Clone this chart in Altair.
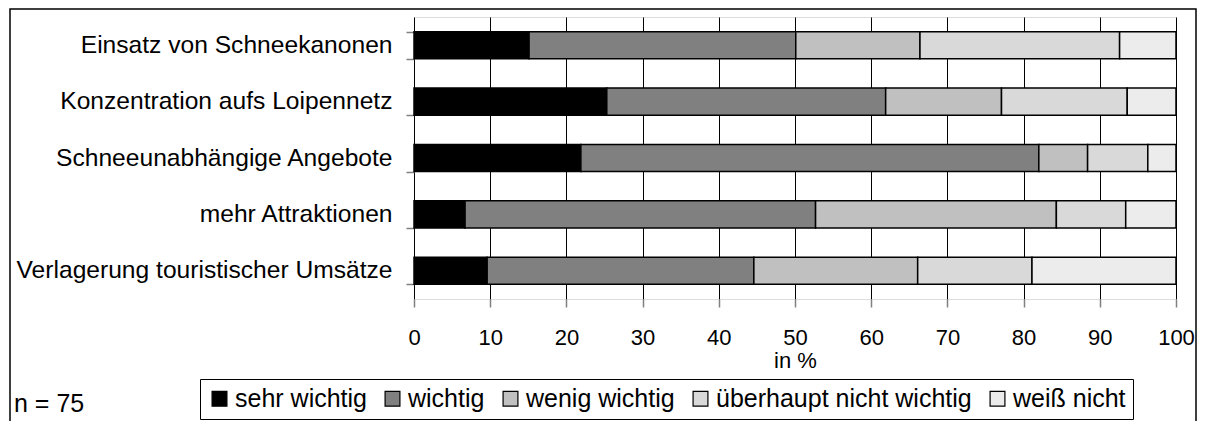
import altair as alt
import pandas as pd

categories = [
    "Einsatz von Schneekanonen",
    "Konzentration aufs Loipennetz",
    "Schneeunabhängige Angebote",
    "mehr Attraktionen",
    "Verlagerung touristischer Umsätze",
]
series = ["sehr wichtig", "wichtig", "wenig wichtig", "überhaupt nicht wichtig", "weiß nicht"]
sehr_wichtig = [15.1, 25.3, 21.9, 6.7, 9.6]
wichtig = [35.0, 36.6, 60.1, 46.0, 35.0]
wenig_wichtig = [16.3, 15.2, 6.4, 31.6, 21.5]
ueberhaupt_nicht = [26.2, 16.5, 7.9, 9.1, 15.0]
weiss_nicht = [7.4, 6.4, 3.7, 6.6, 18.9]
x_ticks = [0, 10, 20, 30, 40, 50, 60, 70, 80, 90, 100]
colors = ["#000000", "#808080", "#c0c0c0", "#d9d9d9", "#ececec"]
note = "n = 75"

values = [sehr_wichtig, wichtig, wenig_wichtig, ueberhaupt_nicht, weiss_nicht]
rows = []
for si, (s, vals) in enumerate(zip(series, values)):
    for c, v in zip(categories, vals):
        rows.append({"Kategorie": c, "Antwort": s, "Wert": v, "ord": si})
df = pd.DataFrame(rows)

FONT = "Liberation Sans"

bars = alt.Chart(df).mark_bar(stroke="#000000", strokeWidth=1.5).encode(
    y=alt.Y("Kategorie:N", sort=categories,
            scale=alt.Scale(paddingInner=0.52, paddingOuter=0.26),
            axis=alt.Axis(title=None, tickBand="extent", tickSize=8, tickColor="#808080",
                          tickWidth=1.5, domain=False, labelPadding=14,
                          labelFontSize=24.6, labelColor="#000000", labelFont=FONT,
                          labelLimit=420)),
    x=alt.X("Wert:Q", stack="zero",
            scale=alt.Scale(domain=[0, 100], nice=False),
            axis=alt.Axis(title="in %", values=x_ticks, grid=True, gridColor="#000000",
                          gridWidth=1, tickSize=8, tickColor="#808080", tickWidth=1.5,
                          domain=False, labelPadding=20, labelFontSize=22, labelFlush=False,
                          labelColor="#000000", labelFont=FONT, titleFont=FONT,
                          titleFontSize=22, titleFontWeight="normal", titleColor="#000000",
                          titlePadding=2)),
    color=alt.Color("Antwort:N", sort=series,
                    scale=alt.Scale(domain=series, range=colors),
                    legend=alt.Legend(title=None, orient="none", direction="horizontal",
                                      legendX=-214, legendY=362, columns=5,
                                      symbolType="square", symbolSize=220,
                                      symbolStrokeColor="#000000", symbolStrokeWidth=1.2,
                                      symbolOpacity=1,
                                      labelFontSize=25, labelFont=FONT, labelColor="#000000",
                                      labelOffset=3, columnPadding=13,
                                      strokeColor="#000000", padding=7,
                                      fillColor="#ffffff", labelLimit=400)),
    order=alt.Order("ord:Q", sort="ascending"),
)

frame = alt.Chart(alt.Data(values=[{"a": 1}])).mark_rect(
    fillOpacity=0, stroke="#000000", strokeWidth=1.5
).encode(x=alt.value(-404), x2=alt.value(782), y=alt.value(-8), y2=alt.value(440))

ntext = alt.Chart(alt.Data(values=[{"t": note}])).mark_text(
    align="left", baseline="alphabetic", fontSize=25, font=FONT, color="#000000"
).encode(text="t:N", x=alt.value(-400), y=alt.value(395))

chart = alt.layer(bars, frame, ntext).properties(
    width=762, height=282,
    autosize=alt.AutoSizeParams(type="none"),
    padding={"left": 406, "top": 9, "right": 21, "bottom": 122},
).configure_view(stroke="#000000", strokeWidth=3).configure(background="#ffffff")

chart.save("out.html", embed_options={"renderer": "svg", "actions": False})
